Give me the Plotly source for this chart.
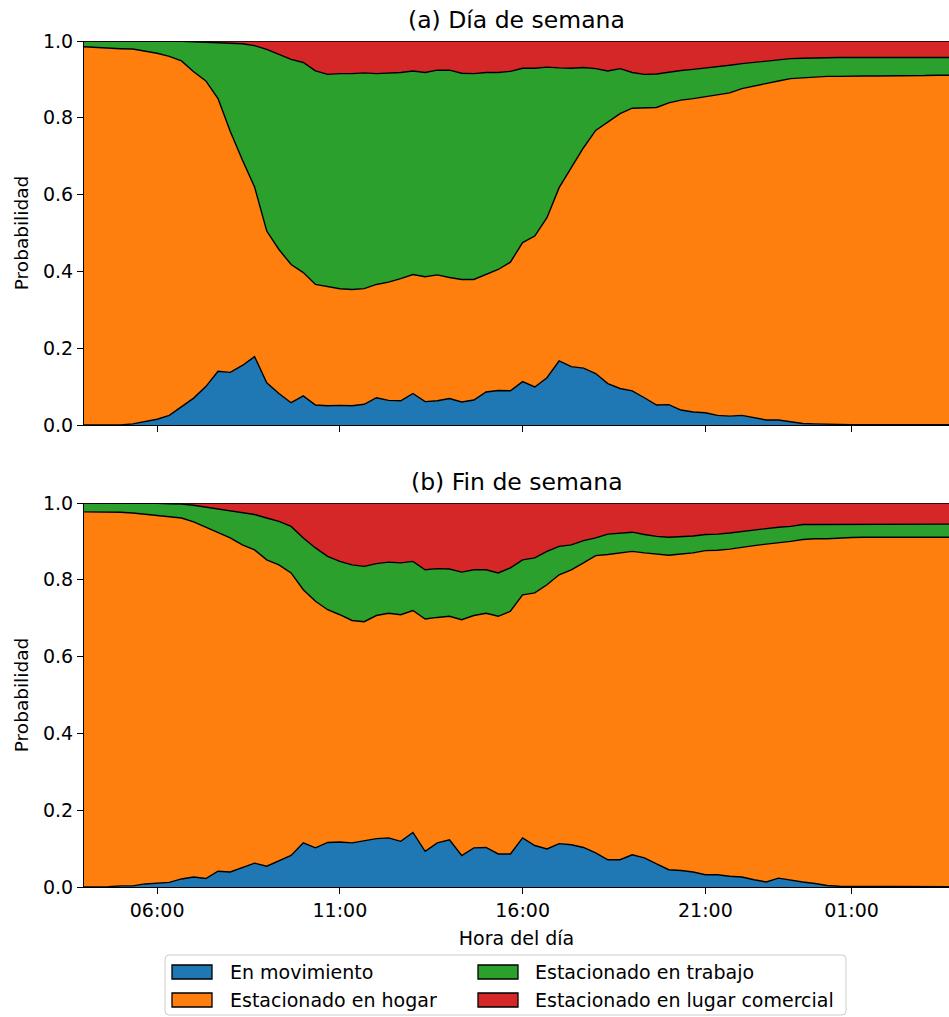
import plotly.graph_objects as go
from plotly.subplots import make_subplots
import pandas as pd

# 20-minute time steps from 04:00 to 03:40 (next day)
times = pd.date_range("2024-01-01 04:00", "2024-01-02 03:40", freq="20min")

series_names = ["En movimiento", "Estacionado en hogar", "Estacionado en trabajo",
                "Estacionado en lugar comercial"]
colors = ["#1f77b4", "#ff7f0e", "#2ca02c", "#d62728"]

# (a) Día de semana
wd_moving = [0.000, 0.000, 0.000, 0.000, 0.003, 0.010, 0.015, 0.025, 0.048, 0.070,
             0.100, 0.140, 0.137, 0.155, 0.178, 0.110, 0.082, 0.058, 0.076, 0.052,
             0.050, 0.051, 0.050, 0.054, 0.071, 0.064, 0.063, 0.082, 0.061, 0.063,
             0.069, 0.060, 0.065, 0.086, 0.090, 0.089, 0.113, 0.099, 0.123, 0.167,
             0.152, 0.148, 0.134, 0.108, 0.095, 0.089, 0.071, 0.052, 0.053, 0.039,
             0.034, 0.032, 0.025, 0.023, 0.025, 0.019, 0.013, 0.013, 0.009, 0.004,
             0.003, 0.002, 0.001, 0.001, 0.001, 0.001, 0.001, 0.001, 0.001, 0.001,
             0.001, 0.001]
wd_home = [0.985, 0.983, 0.982, 0.980, 0.976, 0.964, 0.953, 0.935, 0.900, 0.850,
           0.796, 0.710, 0.628, 0.535, 0.442, 0.395, 0.375, 0.360, 0.321, 0.314,
           0.310, 0.304, 0.303, 0.301, 0.295, 0.308, 0.318, 0.310, 0.325, 0.328,
           0.315, 0.319, 0.314, 0.305, 0.315, 0.335, 0.362, 0.393, 0.417, 0.451,
           0.518, 0.574, 0.633, 0.681, 0.716, 0.736, 0.755, 0.775, 0.786, 0.807,
           0.816, 0.823, 0.836, 0.842, 0.851, 0.864, 0.877, 0.883, 0.893, 0.900,
           0.904, 0.906, 0.907, 0.908, 0.908, 0.908, 0.908, 0.909, 0.909, 0.909,
           0.910, 0.910]
wd_work = [0.015, 0.017, 0.018, 0.020, 0.021, 0.026, 0.032, 0.040, 0.051, 0.078,
           0.101, 0.146, 0.230, 0.303, 0.368, 0.473, 0.508, 0.534, 0.547, 0.556,
           0.553, 0.560, 0.562, 0.562, 0.549, 0.544, 0.537, 0.530, 0.532, 0.533,
           0.540, 0.537, 0.536, 0.527, 0.513, 0.497, 0.454, 0.437, 0.392, 0.312,
           0.259, 0.209, 0.161, 0.133, 0.117, 0.093, 0.087, 0.087, 0.080, 0.077,
           0.076, 0.074, 0.072, 0.072, 0.065, 0.061, 0.058, 0.055, 0.052, 0.051,
           0.049, 0.049, 0.049, 0.048, 0.048, 0.048, 0.048, 0.047, 0.047, 0.047,
           0.046, 0.046]
wd_commercial = [0.000, 0.000, 0.000, 0.000, 0.000, 0.000, 0.000, 0.000, 0.001, 0.002,
                 0.003, 0.004, 0.005, 0.007, 0.012, 0.022, 0.035, 0.048, 0.056, 0.078,
                 0.087, 0.085, 0.085, 0.083, 0.085, 0.084, 0.082, 0.078, 0.082, 0.076,
                 0.076, 0.084, 0.085, 0.082, 0.082, 0.079, 0.071, 0.071, 0.068, 0.070,
                 0.071, 0.069, 0.072, 0.078, 0.072, 0.082, 0.087, 0.086, 0.081, 0.077,
                 0.074, 0.071, 0.067, 0.063, 0.059, 0.056, 0.052, 0.049, 0.046, 0.045,
                 0.044, 0.043, 0.043, 0.043, 0.043, 0.043, 0.043, 0.043, 0.043, 0.043,
                 0.043, 0.043]

# (b) Fin de semana
we_moving = [0.000, 0.000, 0.001, 0.003, 0.003, 0.008, 0.010, 0.012, 0.021, 0.026,
             0.022, 0.041, 0.039, 0.051, 0.062, 0.054, 0.069, 0.082, 0.115, 0.102,
             0.116, 0.117, 0.115, 0.120, 0.126, 0.128, 0.119, 0.142, 0.093, 0.115,
             0.123, 0.082, 0.102, 0.103, 0.086, 0.086, 0.128, 0.108, 0.099, 0.113,
             0.110, 0.103, 0.089, 0.071, 0.071, 0.084, 0.076, 0.060, 0.045, 0.043,
             0.039, 0.032, 0.032, 0.028, 0.026, 0.019, 0.013, 0.023, 0.017, 0.013,
             0.009, 0.004, 0.002, 0.002, 0.001, 0.001, 0.001, 0.001, 0.001, 0.001,
             0.001, 0.001]
we_home = [0.977, 0.977, 0.976, 0.973, 0.971, 0.963, 0.958, 0.953, 0.940, 0.925,
           0.915, 0.881, 0.870, 0.840, 0.816, 0.798, 0.770, 0.736, 0.659, 0.642,
           0.606, 0.592, 0.579, 0.571, 0.581, 0.585, 0.590, 0.578, 0.605, 0.587,
           0.582, 0.614, 0.605, 0.610, 0.619, 0.632, 0.633, 0.658, 0.688, 0.700,
           0.716, 0.741, 0.774, 0.795, 0.799, 0.790, 0.794, 0.807, 0.819, 0.824,
           0.831, 0.844, 0.845, 0.852, 0.859, 0.870, 0.880, 0.873, 0.883, 0.892,
           0.898, 0.903, 0.907, 0.908, 0.910, 0.910, 0.910, 0.910, 0.910, 0.910,
           0.910, 0.910]
we_work = [0.023, 0.023, 0.023, 0.024, 0.026, 0.029, 0.031, 0.033, 0.036, 0.043,
           0.052, 0.062, 0.071, 0.083, 0.092, 0.109, 0.113, 0.121, 0.135, 0.139,
           0.139, 0.139, 0.145, 0.144, 0.135, 0.133, 0.135, 0.128, 0.128, 0.127,
           0.123, 0.124, 0.119, 0.113, 0.113, 0.113, 0.091, 0.091, 0.087, 0.074,
           0.065, 0.058, 0.046, 0.053, 0.052, 0.050, 0.048, 0.046, 0.047, 0.046,
           0.044, 0.042, 0.042, 0.042, 0.041, 0.040, 0.039, 0.041, 0.039, 0.039,
           0.037, 0.037, 0.036, 0.035, 0.034, 0.034, 0.034, 0.034, 0.034, 0.034,
           0.034, 0.034]
we_commercial = [0.000, 0.000, 0.000, 0.000, 0.000, 0.000, 0.001, 0.002, 0.003, 0.006,
                 0.011, 0.016, 0.020, 0.026, 0.030, 0.039, 0.048, 0.061, 0.091, 0.117,
                 0.139, 0.152, 0.161, 0.165, 0.158, 0.154, 0.156, 0.152, 0.174, 0.171,
                 0.172, 0.180, 0.174, 0.174, 0.182, 0.169, 0.148, 0.143, 0.126, 0.113,
                 0.109, 0.098, 0.091, 0.081, 0.078, 0.076, 0.082, 0.087, 0.089, 0.087,
                 0.086, 0.082, 0.081, 0.078, 0.074, 0.071, 0.068, 0.063, 0.061, 0.056,
                 0.056, 0.056, 0.055, 0.055, 0.055, 0.055, 0.055, 0.055, 0.055, 0.055,
                 0.055, 0.055]

panel_titles = ["(a) Día de semana", "(b) Fin de semana"]
tick_times = ["2024-01-01 06:00", "2024-01-01 11:00", "2024-01-01 16:00",
              "2024-01-01 21:00", "2024-01-02 01:00"]
tick_labels = ["06:00", "11:00", "16:00", "21:00", "01:00"]

FONT = "DejaVu Sans"
FS = 19
W, H = 949, 1017
L, R, T, B = 84, 0, 41, 130
plot_w = W - L - R
plot_h = H - T - B
top_dom = [(887 - 425) / plot_h, 1.0]
bot_dom = [0.0, (887 - 503) / plot_h]


def px_x(p):
    return (p - L) / plot_w


def px_y(p):
    return (H - B - p) / plot_h


fig = make_subplots(rows=2, cols=1, shared_xaxes=False)

panels = [
    (1, "wd", [wd_moving, wd_home, wd_work, wd_commercial]),
    (2, "we", [we_moving, we_home, we_work, we_commercial]),
]
for row, grp, data in panels:
    for i, (name, vals) in enumerate(zip(series_names, data)):
        fig.add_trace(
            go.Scatter(
                x=times, y=vals, name=name, mode="lines",
                stackgroup=grp,
                line=dict(color="black", width=1.4, shape="linear"),
                fillcolor=colors[i],
                showlegend=False,
                hoverinfo="skip",
            ),
            row=row, col=1,
        )

xrange_ = [times[0], times[-1]]
common_x = dict(
    range=xrange_, type="date", tickvals=tick_times, ticktext=tick_labels,
    ticks="outside", ticklen=6, tickwidth=1, tickcolor="black",
    showline=True, linecolor="black", linewidth=1, showgrid=False, zeroline=False,
    tickfont=dict(family=FONT, size=FS, color="black"),
)
common_y = dict(
    range=[0, 1], tickvals=[0, 0.2, 0.4, 0.6, 0.8, 1.0], tickformat=".1f",
    ticks="outside", ticklen=6, tickwidth=1, tickcolor="black",
    showline=True, linecolor="black", linewidth=1, showgrid=False, zeroline=False,
    tickfont=dict(family=FONT, size=FS, color="black"),
    title=dict(text="Probabilidad", font=dict(family=FONT, size=FS - 0.5, color="black"),
               standoff=9),
)
fig.update_xaxes(**common_x, domain=[0, 1])
fig.update_xaxes(showticklabels=False, row=1, col=1)
fig.update_xaxes(title=dict(text="Hora del día", font=dict(family=FONT, size=FS, color="black"),
                            standoff=11), row=2, col=1)
fig.update_yaxes(**common_y)
fig.update_layout(yaxis=dict(domain=top_dom), yaxis2=dict(domain=bot_dom))

for title, dom in zip(panel_titles, [top_dom, bot_dom]):
    fig.add_annotation(
        text=title, x=0.5, xref="paper", y=dom[1], yref="paper",
        xanchor="center", yanchor="bottom", yshift=5, showarrow=False,
        font=dict(family=FONT, size=23.5, color="black"),
    )

# Manual matplotlib-style legend (two columns, column-major order)
bx0, bx1, by0, by1 = px_x(165), px_x(846), px_y(955), px_y(1015)
r = 4
rx, ry = r / plot_w, r / plot_h
legend_path = (
    f"M {bx0 + rx},{by0} L {bx1 - rx},{by0} Q {bx1},{by0} {bx1},{by0 - ry} "
    f"L {bx1},{by1 + ry} Q {bx1},{by1} {bx1 - rx},{by1} "
    f"L {bx0 + rx},{by1} Q {bx0},{by1} {bx0},{by1 + ry} "
    f"L {bx0},{by0 - ry} Q {bx0},{by0} {bx0 + rx},{by0} Z"
)
fig.add_shape(type="path", path=legend_path, xref="paper", yref="paper",
              line=dict(color="#cccccc", width=1), fillcolor="white", layer="above")

col_patch_x = [172, 478]
col_text_x = [228, 533]
row_cy = [972, 1000]
for i, name in enumerate(series_names):
    c, rr = divmod(i, 2)
    x0p = col_patch_x[c]
    cy = row_cy[rr]
    fig.add_shape(type="rect", xref="paper", yref="paper",
                  x0=px_x(x0p), x1=px_x(x0p + 40), y0=px_y(cy - 7), y1=px_y(cy + 7),
                  fillcolor=colors[i], line=dict(color="black", width=1.3), layer="above")
    fig.add_annotation(text=name, xref="paper", yref="paper",
                       x=px_x(col_text_x[c]), y=px_y(cy), xanchor="left", yanchor="middle",
                       showarrow=False, font=dict(family=FONT, size=FS, color="black"))

fig.update_layout(
    width=W, height=H,
    margin=dict(l=L, r=R, t=T, b=B),
    paper_bgcolor="white", plot_bgcolor="white",
    font=dict(family=FONT, color="black"),
    showlegend=False,
)

fig.write_html("out.html")
